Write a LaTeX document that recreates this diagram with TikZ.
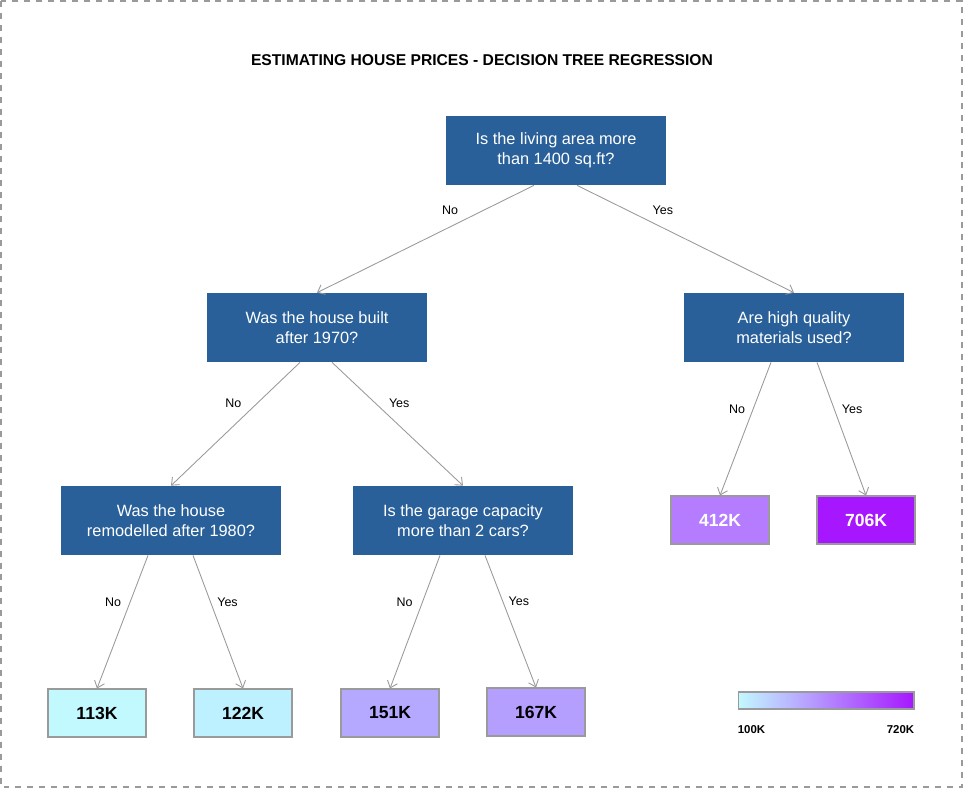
\documentclass[tikz,border=0pt]{standalone}
\usepackage{fontspec}
\setmainfont{Liberation Sans}
\usetikzlibrary{arrows.meta,calc}
\definecolor{qblue}{HTML}{29609A}
\definecolor{edgegray}{HTML}{9A9A9A}
\definecolor{cA}{HTML}{C2F9FF}
\definecolor{cB}{HTML}{BDF1FF}
\definecolor{cC}{HTML}{B5A8FF}
\definecolor{cD}{HTML}{B49FFF}
\definecolor{cE}{HTML}{B57CFF}
\definecolor{cF}{HTML}{A617FF}
\begin{document}
\begin{tikzpicture}[x=.02cm,y=-.02cm,
    question/.style={fill=qblue, text=white, minimum width=4.4cm, minimum height=1.38cm,
        align=center, font=\fontsize{9.3}{11.3}\selectfont, inner sep=0pt},
    leaf/.style={draw=edgegray, line width=.6pt, minimum width=1.96cm, minimum height=.96cm,
        inner sep=0pt, font=\fontsize{10}{11}\selectfont\bfseries},
    branch/.style={draw=edgegray, line width=.5pt, -{Straight Barb[length=3.6pt,width=6pt]}},
    lbl/.style={font=\fontsize{7.1}{8}\selectfont, text=black}]

\useasboundingbox (0,0) rectangle (963,788);
\draw[edgegray, line width=.6pt, dash pattern=on 3.4pt off 3.4pt] (1,1) rectangle (962,787);

\node[font=\fontsize{8.9}{10}\selectfont\bfseries] (title) at (482,60) {ESTIMATING HOUSE PRICES - DECISION TREE REGRESSION};

% questions
\node[question] (root) at (556,150.5) {Is the living area more\\than 1400 sq.ft?};
\node[question] (built) at (317,327.5) {Was the house built\\after 1970?};
\node[question] (quality) at (794,327.5) {Are high quality\\materials used?};
\node[question] (remod) at (171,520.5) {Was the house\\remodelled after 1980?};
\node[question] (garage) at (463,520.5) {Is the garage capacity\\more than 2 cars?};

% predictions
\node[leaf, fill=cE, text=white] (p412) at (720,520) {412K};
\node[leaf, fill=cF, text=white] (p706) at (866,520) {706K};
\node[leaf, fill=cA] (p113) at (97,713) {113K};
\node[leaf, fill=cB] (p122) at (243,713) {122K};
\node[leaf, fill=cC] (p151) at (390,713) {151K};
\node[leaf, fill=cD] (p167) at (536,712) {167K};

% branches
\draw[branch] ([xshift=-.44cm]root.south) -- node[lbl, pos=.23, xshift=-.68cm]{No} (built.north);
\draw[branch] ([xshift=.42cm]root.south) -- node[lbl, pos=.23, xshift=.72cm]{Yes} (quality.north);
\draw[branch] ([xshift=-.34cm]built.south) -- node[lbl, pos=.33, xshift=-.48cm]{No} (remod.north);
\draw[branch] ([xshift=.3cm]built.south) -- node[lbl, pos=.33, xshift=.48cm]{Yes} (garage.north);
\draw[branch] ([xshift=-.46cm]quality.south) -- node[lbl, pos=.35, xshift=-.32cm]{No} (p412.north);
\draw[branch] ([xshift=.46cm]quality.south) -- node[lbl, pos=.35, xshift=.36cm]{Yes} (p706.north);
\draw[branch] ([xshift=-.46cm]remod.south) -- node[lbl, pos=.35, xshift=-.34cm]{No} (p113.north);
\draw[branch] ([xshift=.44cm]remod.south) -- node[lbl, pos=.35, xshift=.34cm]{Yes} (p122.north);
\draw[branch] ([xshift=-.46cm]garage.south) -- node[lbl, pos=.35, xshift=-.36cm]{No} (p151.north);
\draw[branch] ([xshift=.44cm]garage.south) -- node[lbl, pos=.35, xshift=.32cm]{Yes} (p167.north);

% colour scale
\node[draw=edgegray, line width=.6pt, minimum width=3.52cm, minimum height=.34cm, inner sep=0pt,
    left color=cA, middle color=cC!80!white, right color=cF] (scale) at (826,700.5) {};
\node[font=\fontsize{6.5}{8}\selectfont\bfseries, anchor=north west, inner sep=0pt] (lo) at ([yshift=-.32cm]scale.south west) {100K};
\node[font=\fontsize{6.5}{8}\selectfont\bfseries, anchor=north east, inner sep=0pt] (hi) at ([yshift=-.32cm]scale.south east) {720K};
\end{tikzpicture}
\end{document}
